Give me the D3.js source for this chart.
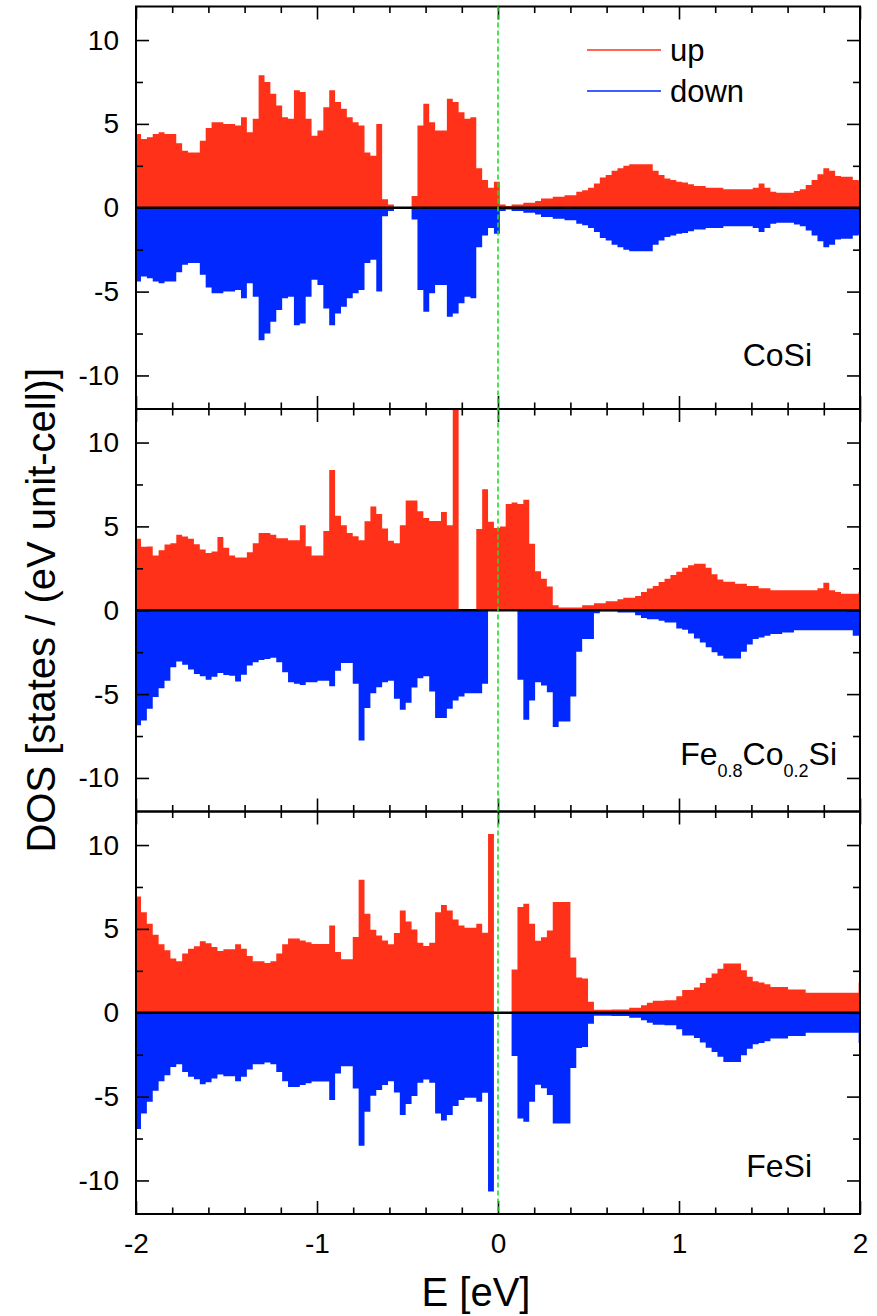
<!DOCTYPE html>
<html>
<meta charset="utf-8">
<style>
  body { margin: 0; background: #fff; }
  svg { display: block; background: #fff; }
  text { font-family: "Liberation Sans", Arial, sans-serif; fill: #000; }
</style>
<body>
<svg id="chart" width="877" height="1316"></svg>

<script src="https://d3js.org/d3.v7.min.js"></script>
<script>
    // histogram energy grid (eV): first bin starts here, all bins same width
    let binStart = -2.005, binWidth = 0.0325;

    // DOS values, one per energy bin (states / eV unit-cell)
    // CoSi and FeSi are nonmagnetic: up and down channels are the same
    let cosi = [
      4.4, 4.1, 4.2, 4.4, 4.5, 4.4, 4.4, 3.85, 3.4, 3.3,
      3.3, 4.0, 4.75, 5.1, 5.1, 5.0, 5.0, 4.9, 5.4, 4.5,
      5.3, 7.9, 7.5, 6.8, 6.1, 5.4, 5.3, 7.0, 6.9, 5.3,
      4.3, 4.6, 6.0, 7.0, 6.3, 5.9, 5.4, 5.1, 4.9, 3.3,
      3.1, 5.0, 0.5, 0.2, 0, 0, 0, 0.7, 4.9, 6.2,
      5.1, 4.6, 4.6, 6.5, 6.3, 5.7, 5.3, 5.4, 2.35, 1.65,
      1.2, 1.55, 0.2, 0.1, 0.2, 0.2, 0.3, 0.3, 0.4, 0.55,
      0.55, 0.65, 0.65, 0.75, 0.75, 0.95, 1.05, 1.2, 1.45, 1.8,
      1.95, 2.2, 2.35, 2.5, 2.6, 2.6, 2.6, 2.6, 2.2, 1.95,
      1.75, 1.65, 1.55, 1.5, 1.4, 1.3, 1.3, 1.2, 1.2, 1.2,
      1.1, 1.1, 1.1, 1.1, 1.1, 1.2, 1.45, 1.2, 0.95, 0.9,
      0.9, 0.9, 1.0, 1.1, 1.35, 1.65, 2.0, 2.35, 2.2, 1.9,
      1.85, 1.85, 1.65, 1.6];

    let fecosiUp = [
      4.27, 3.78, 3.8, 3.26, 3.58, 3.92, 4.0, 4.5, 4.4, 4.27,
      3.94, 3.62, 3.42, 3.5, 4.37, 3.72, 3.26, 3.15, 3.15, 3.46,
      4.0, 4.6, 4.6, 4.5, 4.3, 4.3, 4.17, 4.17, 5.07, 3.82,
      3.26, 3.26, 4.73, 8.37, 5.64, 5.07, 4.6, 4.41, 4.17, 5.3,
      6.19, 5.74, 4.87, 4.15, 4.0, 5.07, 6.55, 6.55, 5.9, 5.5,
      5.32, 5.32, 5.86, 5.07, 12, 0, 0, 0, 4.85, 7.22,
      5.28, 4.9, 5.0, 6.33, 6.43, 6.33, 6.59, 3.96, 2.33, 1.88,
      1.41, 0.3, 0.16, 0.16, 0.16, 0.16, 0.3, 0.3, 0.42, 0.42,
      0.53, 0.53, 0.65, 0.75, 0.75, 0.85, 1.09, 1.29, 1.44, 1.68,
      1.88, 2.1, 2.3, 2.53, 2.69, 2.77, 2.77, 2.53, 2.14, 1.84,
      1.7, 1.7, 1.58, 1.58, 1.44, 1.44, 1.31, 1.31, 1.2, 1.2,
      1.2, 1.2, 1.2, 1.2, 1.2, 1.2, 1.31, 1.64, 1.19, 1.09,
      0.99, 0.99, 0.99, 1.09];

    let fecosiDown = [
      6.86, 6.57, 5.88, 5.18, 4.65, 4.2, 3.4, 3.05, 3.25, 3.54,
      3.8, 3.94, 4.15, 3.96, 3.74, 3.86, 3.9, 4.25, 3.84, 3.3,
      3.1, 2.97, 2.9, 2.83, 3.1, 3.7, 4.29, 4.39, 4.45, 4.29,
      4.29, 4.2, 4.2, 4.53, 3.6, 3.15, 3.15, 4.39, 7.76, 5.83,
      4.95, 4.59, 4.29, 4.2, 5.28, 5.93, 5.52, 4.61, 4.05, 3.94,
      4.85, 6.43, 6.43, 5.88, 5.38, 5.14, 4.95, 4.95, 4.95, 4.39,
      0, 0, 0, 0, 0, 4.15, 6.53, 5.38, 4.29, 4.49,
      4.89, 6.96, 6.63, 6.63, 5.14, 2.47, 1.72, 1.72, 0.18, 0.06,
      0.06, 0.06, 0.14, 0.14, 0.14, 0.3, 0.46, 0.53, 0.53, 0.63,
      0.73, 0.73, 1.09, 1.17, 1.38, 1.68, 1.92, 2.21, 2.51, 2.71,
      2.87, 2.87, 2.87, 2.47, 2.04, 1.72, 1.62, 1.52, 1.42, 1.42,
      1.32, 1.32, 1.19, 1.19, 1.19, 1.19, 1.19, 1.19, 1.19, 1.19,
      1.19, 1.19, 1.52, 1.52];

    let fesi = [
      6.93, 6.0, 5.3, 4.65, 4.08, 3.72, 3.23, 3.07, 3.53, 3.82,
      3.96, 4.27, 4.15, 3.92, 3.68, 3.78, 3.78, 4.08, 3.82, 3.38,
      3.07, 3.07, 2.97, 3.07, 3.53, 4.08, 4.42, 4.42, 4.31, 4.21,
      4.1, 4.1, 4.1, 5.2, 3.62, 3.19, 3.19, 4.51, 7.93, 5.9,
      4.95, 4.61, 4.31, 4.08, 4.75, 6.1, 5.44, 4.97, 4.18, 3.98,
      4.18, 6.0, 6.43, 6.1, 5.56, 5.2, 5.07, 5.07, 5.3, 4.77,
      10.66, 0, 0, 0, 2.58, 6.3, 6.5, 5.3, 4.3, 4.5,
      4.9, 6.6, 6.6, 6.6, 3.29, 2.1, 2.04, 0.65, 0.18, 0.18,
      0.18, 0.2, 0.2, 0.2, 0.3, 0.3, 0.45, 0.59, 0.71, 0.71,
      0.75, 0.75, 0.99, 1.35, 1.35, 1.51, 1.78, 2.08, 2.34, 2.63,
      2.93, 2.93, 2.93, 2.53, 2.14, 1.88, 1.8, 1.7, 1.54, 1.54,
      1.54, 1.39, 1.39, 1.39, 1.19, 1.19, 1.19, 1.19, 1.19, 1.19,
      1.19, 1.19, 1.19, 1.8];

    let panelNames = ["CoSi", "Fe0.8Co0.2Si", "FeSi"];
    let upSeries = [cosi, fecosiUp, fesi];
    let downSeries = [cosi, fecosiDown, fesi];

    let xTicks = [-2, -1, 0, 1, 2];
    let yTicks = [-10, -5, 0, 5, 10];

    let colors = { up: "#ff3219", down: "#0028ff" };

    // layout
    let plotL = 136, plotR = 860, plotTop = 6.5, panelH = 402.5;

    let svg = d3.select("#chart");

    let xScale = d3.scaleLinear().domain([-2, 2]).range([plotL, plotR]);

    let xMinor = d3.range(-10, 11).map(d => d / 5).filter(d => Math.abs(d - Math.round(d)) > 1e-6);
    let yMinor = [-7.5, -2.5, 2.5, 7.5];

    function binPoints(values) {
      let pts = values.map((v, k) => [binStart + k * binWidth, v]);
      pts.push([binStart + values.length * binWidth, values[values.length - 1]]);
      return pts;
    }

    function styleAxis(g) {
      g.select(".domain").remove();
      g.selectAll(".tick line").attr("stroke", "#000").attr("stroke-width", 1.6);
      g.selectAll(".tick text").style("font-size", "28px").attr("fill", "#000");
    }

    panelNames.forEach(function(name, i) {
      let y0 = plotTop + i * panelH;
      let yScale = d3.scaleLinear().domain([-12, 12]).range([y0 + panelH, y0]);
      let g = svg.append("g");

      g.append("clipPath").attr("id", "clip" + i)
        .append("rect")
        .attr("x", plotL).attr("y", y0)
        .attr("width", plotR - plotL).attr("height", panelH);

      let areaUp = d3.area()
        .curve(d3.curveStepAfter)
        .x(d => xScale(d[0]))
        .y0(yScale(0))
        .y1(d => yScale(d[1]));

      let areaDown = d3.area()
        .curve(d3.curveStepAfter)
        .x(d => xScale(d[0]))
        .y0(yScale(0))
        .y1(d => yScale(-d[1]));

      let plot = g.append("g").attr("clip-path", "url(#clip" + i + ")");
      plot.append("path").attr("d", areaUp(binPoints(upSeries[i]))).attr("fill", colors.up);
      plot.append("path").attr("d", areaDown(binPoints(downSeries[i]))).attr("fill", colors.down);

      // zero line
      g.append("line")
        .attr("x1", plotL).attr("x2", plotR)
        .attr("y1", yScale(0)).attr("y2", yScale(0))
        .attr("stroke", "#000").attr("stroke-width", 2.5);

      // y ticks, inward on both sides
      g.append("g").attr("transform", "translate(" + plotL + ",0)")
        .call(d3.axisLeft(yScale).tickValues(yTicks).tickSize(-13).tickPadding(17).tickFormat(d => String(d)))
        .call(styleAxis);
      g.append("g").attr("transform", "translate(" + plotL + ",0)")
        .call(d3.axisLeft(yScale).tickValues(yMinor).tickSize(-7).tickFormat(""))
        .call(styleAxis);
      g.append("g").attr("transform", "translate(" + plotR + ",0)")
        .call(d3.axisRight(yScale).tickValues(yTicks).tickSize(-13).tickFormat(""))
        .call(styleAxis);
      g.append("g").attr("transform", "translate(" + plotR + ",0)")
        .call(d3.axisRight(yScale).tickValues(yMinor).tickSize(-7).tickFormat(""))
        .call(styleAxis);

      // x ticks, inward on top and bottom
      g.append("g").attr("transform", "translate(0," + y0 + ")")
        .call(d3.axisTop(xScale).tickValues(xTicks).tickSize(-13).tickFormat(""))
        .call(styleAxis);
      g.append("g").attr("transform", "translate(0," + y0 + ")")
        .call(d3.axisTop(xScale).tickValues(xMinor).tickSize(-6.5).tickFormat(""))
        .call(styleAxis);
      let last = i === panelNames.length - 1;
      g.append("g").attr("transform", "translate(0," + (y0 + panelH) + ")")
        .call(d3.axisBottom(xScale).tickValues(xTicks).tickSize(-13).tickPadding(19)
          .tickFormat(d => last ? String(d) : ""))
        .call(styleAxis);
      g.append("g").attr("transform", "translate(0," + (y0 + panelH) + ")")
        .call(d3.axisBottom(xScale).tickValues(xMinor).tickSize(-6.5).tickFormat(""))
        .call(styleAxis);

      // frame
      g.append("rect")
        .attr("x", plotL).attr("y", y0)
        .attr("width", plotR - plotL).attr("height", panelH)
        .attr("fill", "none").attr("stroke", "#000").attr("stroke-width", 2);
    });

    // panel labels
    svg.append("text").attr("x", 812).attr("y", 366)
      .attr("text-anchor", "end").style("font-size", "32px").text("CoSi");
    let lab = svg.append("text").attr("x", 837).attr("y", 765)
      .attr("text-anchor", "end").style("font-size", "32px");
    lab.append("tspan").text("Fe");
    lab.append("tspan").attr("dy", 12).style("font-size", "18px").text("0.8");
    lab.append("tspan").attr("dy", -12).text("Co");
    lab.append("tspan").attr("dy", 12).style("font-size", "18px").text("0.2");
    lab.append("tspan").attr("dy", -12).text("Si");
    svg.append("text").attr("x", 812).attr("y", 1177)
      .attr("text-anchor", "end").style("font-size", "32px").text("FeSi");

    // Fermi level
    svg.append("line")
      .attr("x1", xScale(0)).attr("x2", xScale(0))
      .attr("y1", plotTop).attr("y2", plotTop + 3 * panelH)
      .attr("stroke", "#22dd22").attr("stroke-width", 1.6)
      .attr("stroke-dasharray", "5,3");

    // legend
    let legend = svg.append("g");
    [["up", 50], ["down", 91]].forEach(function(d) {
      legend.append("line")
        .attr("x1", 587).attr("x2", 661).attr("y1", d[1]).attr("y2", d[1])
        .attr("stroke", colors[d[0]]).attr("stroke-width", 1.6);
      legend.append("text").attr("x", 670).attr("y", d[1] + 11)
        .style("font-size", "31px").text(d[0]);
    });

    // axis titles
    svg.append("text")
      .attr("x", 476).attr("y", 1306)
      .attr("text-anchor", "middle").style("font-size", "40px")
      .text("E [eV]");
    svg.append("text")
      .attr("transform", "translate(55," + (plotTop + 1.5 * panelH) + ") rotate(-90)")
      .attr("text-anchor", "middle").style("font-size", "40px")
      .text("DOS [states / (eV unit-cell)]");
</script>
</body>
</html>
